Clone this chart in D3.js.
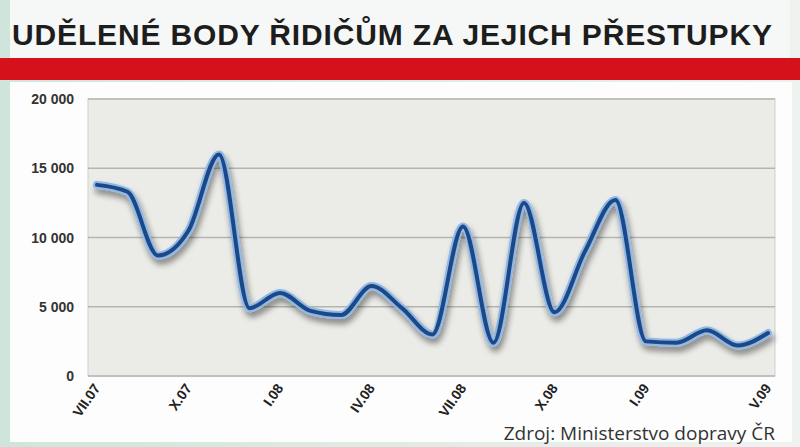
<!DOCTYPE html>
<html><head><meta charset="utf-8">
<script src="https://cdn.jsdelivr.net/npm/d3@7"></script>
<style>body{margin:0;background:#fff}svg{display:block}</style>
</head><body>
<div id="chart"></div>
<script>
var months = ["VII.07","VIII.07","IX.07","X.07","XI.07","XII.07","I.08","II.08","III.08","IV.08","V.08","VI.08","VII.08","VIII.08","IX.08","X.08","XI.08","XII.08","I.09","II.09","III.09","IV.09","V.09"];
var points = [13800,13300,8700,10500,16000,4900,6000,4700,4400,6500,4900,3000,10800,2400,12500,4600,9000,12700,2500,2400,3300,2200,3100];
var tickMonths = ["VII.07","X.07","I.08","IV.08","VII.08","X.08","I.09","V.09"];
var yTicks = [0,5000,10000,15000,20000];

var W = 800, H = 447;
var svg = d3.select("#chart").append("svg").attr("width", W).attr("height", H);
var defs = svg.append("defs");
var g1 = defs.append("linearGradient").attr("id","bg").attr("x1",0).attr("x2",1);
g1.append("stop").attr("offset",0).attr("stop-color","#cfe5dc");
g1.append("stop").attr("offset",1).attr("stop-color","#eef3f0");
var f = defs.append("filter").attr("id","sh").attr("x","-10%").attr("y","-10%").attr("width","120%").attr("height","130%");
f.append("feGaussianBlur").attr("in","SourceAlpha").attr("stdDeviation",3).attr("result","b");
f.append("feOffset").attr("in","b").attr("dx",2).attr("dy",5).attr("result","o");
f.append("feComponentTransfer").attr("in","o").attr("result","o2").append("feFuncA").attr("type","linear").attr("slope",0.45);
var m = f.append("feMerge"); m.append("feMergeNode").attr("in","o2"); m.append("feMergeNode").attr("in","SourceGraphic");

svg.append("rect").attr("width",W).attr("height",H).attr("fill","url(#bg)");
svg.append("rect").attr("x",10).attr("y",0).attr("width",780).attr("height",60).attr("fill","#f6f8f7");
svg.append("text").attr("x",12).attr("y",45).attr("font-family","Liberation Sans, Arial").attr("font-weight","bold")
  .attr("font-size",30).attr("fill","#1d1d1d").attr("textLength",760).text("UDĚLENÉ BODY ŘIDIČŮM ZA JEJICH PŘESTUPKY");
svg.append("rect").attr("x",0).attr("y",58).attr("width",W).attr("height",22).attr("fill","#d5121b");
svg.append("rect").attr("x",10).attr("y",82).attr("width",782).attr("height",360).attr("fill","#fdfdfd");

var x = d3.scaleLinear().domain([0, months.length-1]).range([97, 768]);
var y = d3.scaleLinear().domain([0,20000]).range([376, 99]);
svg.append("rect").attr("x",88).attr("y",99).attr("width",687).attr("height",277).attr("fill","#ebebe8").attr("stroke","#cfcfcc");

svg.append("g").selectAll("line").data(yTicks).enter().append("line")
  .attr("x1",88).attr("x2",775).attr("y1",function(d){return y(d);}).attr("y2",function(d){return y(d);})
  .attr("stroke","#b5b5b0").attr("stroke-width",1.5);
svg.append("g").selectAll("text").data(yTicks).enter().append("text")
  .attr("x",74).attr("y",function(d){return y(d)+5;}).attr("text-anchor","end")
  .attr("font-family","Liberation Sans, Arial").attr("font-weight","bold").attr("font-size",14).attr("fill","#333")
  .text(function(d){return d3.format(",")(d).replace(",", " ");});

svg.append("g").selectAll("text").data(tickMonths).enter().append("text")
  .attr("transform",function(d){return "translate("+(x(months.indexOf(d))+4)+",388) rotate(-55)";})
  .attr("text-anchor","end").attr("font-family","Liberation Sans, Arial").attr("font-weight","bold")
  .attr("font-size",14).attr("fill","#222").text(function(d){return d;});

var line = d3.line().x(function(d,i){return x(i);}).y(function(d){return y(d);}).curve(d3.curveMonotoneX);
var lg = svg.append("g").attr("filter","url(#sh)");
lg.append("path").datum(points).attr("d",line).attr("fill","none").attr("stroke","#8fb8e8").attr("stroke-width",8).attr("stroke-linecap","round");
lg.append("path").datum(points).attr("d",line).attr("fill","none").attr("stroke","#1b4a86").attr("stroke-width",4).attr("stroke-linecap","round");

svg.append("text").attr("x",775).attr("y",440).attr("text-anchor","end").attr("font-family","Open Sans, Liberation Sans")
  .attr("font-size",19).attr("fill","#333").text("Zdroj: Ministerstvo dopravy ČR");
</script>
</body></html>
